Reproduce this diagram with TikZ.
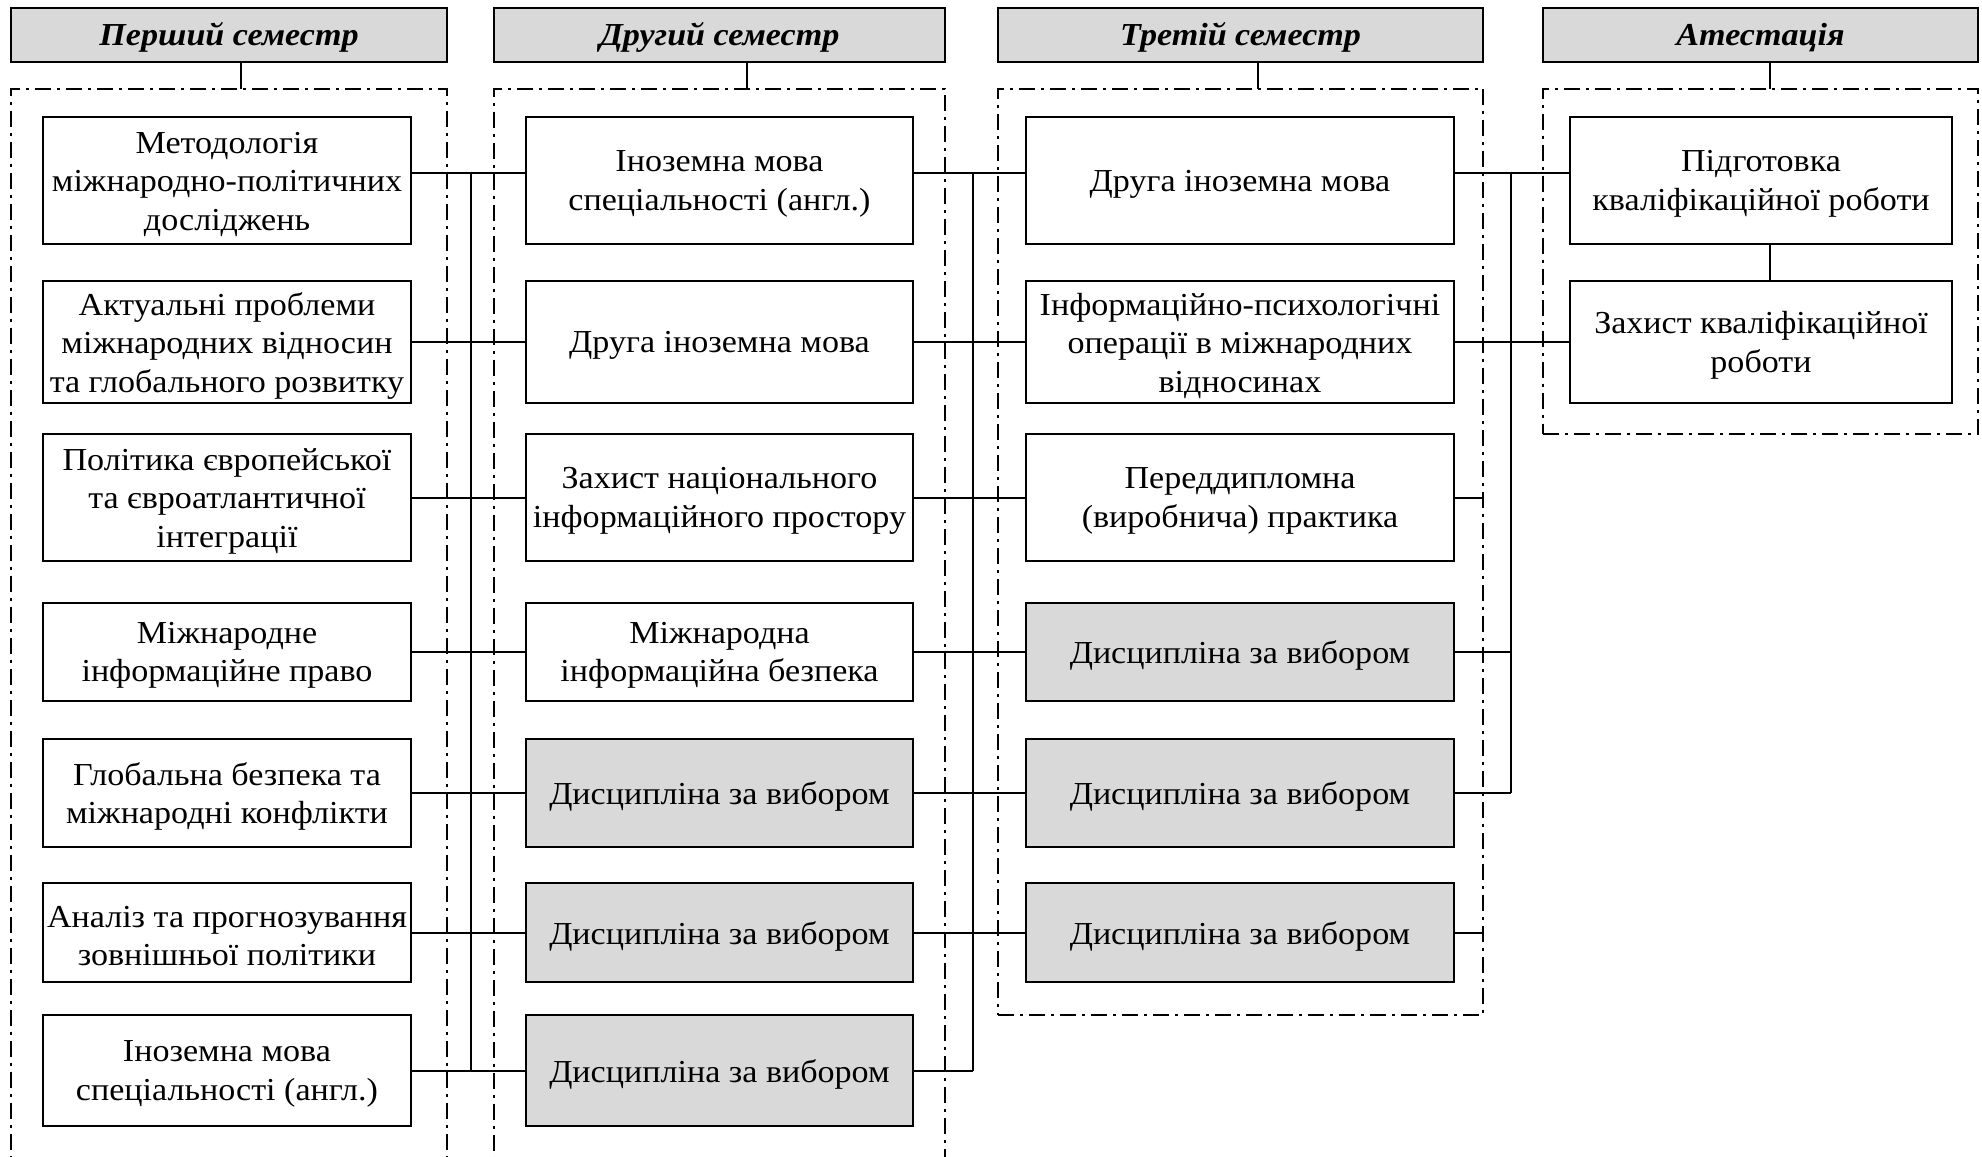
\documentclass[tikz,border=0pt]{standalone}
\usepackage{fontspec}
\setmainfont{Liberation Serif}[FakeStretch=1.065]
\definecolor{boxgray}{HTML}{D9D9D9}
\newcommand\cbox[6]{%
  \node[#2,#3,#4] (#1) at (#5) {};
  \node[txt] (#1t) at ([yshift=-3.5pt]#1.center) {#6};}
\begin{document}
\begin{tikzpicture}[x=1pt,y=-1pt,
  every node/.style={inner sep=0pt, outer sep=0pt},
  box/.style={draw, line width=2.5pt, fill=white},
  gbox/.style={box, fill=boxgray},
  txt/.style={align=center, font=\fontsize{32}{38.5}\selectfont},
  head/.style={draw, line width=2.5pt, fill=boxgray, minimum height=54},
  htxt/.style={font=\fontsize{32}{39}\selectfont\bfseries\itshape},
  frame/.style={draw, line width=2pt, dash pattern=on 16pt off 6pt on 3pt off 6pt, anchor=north west},
  link/.style={line width=2pt},
  c1/.style={minimum width=368}, c2/.style={minimum width=387},
  c3/.style={minimum width=428}, c4/.style={minimum width=382},
  r1/.style={minimum height=127}, r2/.style={minimum height=122},
  r3/.style={minimum height=127}, r4/.style={minimum height=98},
  r5/.style={minimum height=108}, r6/.style={minimum height=99},
  r7/.style={minimum height=111}]
\useasboundingbox (0,0) rectangle (1982,1157);

% headers
\node[head, minimum width=436] (h1) at (229,35) {};
\node[head, minimum width=451] (h2) at (719.5,35) {};
\node[head, minimum width=485] (h3) at (1240.5,35) {};
\node[head, minimum width=435] (h4) at (1760.5,35) {};
\node[htxt] (h1t) at ([yshift=-2.5pt]h1.center) {Перший семестр};
\node[htxt] (h2t) at ([yshift=-2.5pt]h2.center) {Другий семестр};
\node[htxt] (h3t) at ([yshift=-2.5pt]h3.center) {Третій семестр};
\node[htxt] (h4t) at ([yshift=-2.5pt]h4.center) {Атестація};

% frames
\node[frame, minimum width=436, minimum height=1090] (f1) at (11,88.5) {};
\node[frame, minimum width=451, minimum height=1090] (f2) at (494,88.5) {};
\node[frame, minimum width=485, minimum height=926.5] (f3) at (998,88.5) {};
\node[frame, minimum width=435, minimum height=345] (f4) at (1543,88.5) {};

\coordinate (t1) at (241,0);
\coordinate (t2) at (747,0);
\coordinate (t3) at (1258,0);
\coordinate (t4) at (1770,0);
\draw[link] (h1.south -| t1) -- (f1.north -| t1);
\draw[link] (h2.south -| t2) -- (f2.north -| t2);
\draw[link] (h3.south -| t3) -- (f3.north -| t3);
\draw[link] (h4.south -| t4) -- (f4.north -| t4);

% column 1
\cbox{a1}{box}{c1}{r1}{227,180.5}{Методологія\\міжнародно-політичних\\досліджень}
\cbox{a2}{box}{c1}{r2}{227,342}{Актуальні проблеми\\міжнародних відносин\\та глобального розвитку}
\cbox{a3}{box}{c1}{r3}{227,497.5}{Політика європейської\\та євроатлантичної\\інтеграції}
\cbox{a4}{box}{c1}{r4}{227,652}{Міжнародне\\інформаційне право}
\cbox{a5}{box}{c1}{r5}{227,793}{Глобальна безпека та\\міжнародні конфлікти}
\cbox{a6}{box}{c1}{r6}{227,932.5}{Аналіз та прогнозування\\зовнішньої політики}
\cbox{a7}{box}{c1}{r7}{227,1070.5}{Іноземна мова\\спеціальності (англ.)}

% column 2
\cbox{b1}{box}{c2}{r1}{719.5,180.5}{Іноземна мова\\спеціальності (англ.)}
\cbox{b2}{box}{c2}{r2}{719.5,342}{Друга іноземна мова}
\cbox{b3}{box}{c2}{r3}{719.5,497.5}{Захист національного\\інформаційного простору}
\cbox{b4}{box}{c2}{r4}{719.5,652}{Міжнародна\\інформаційна безпека}
\cbox{b5}{gbox}{c2}{r5}{719.5,793}{Дисципліна за вибором}
\cbox{b6}{gbox}{c2}{r6}{719.5,932.5}{Дисципліна за вибором}
\cbox{b7}{gbox}{c2}{r7}{719.5,1070.5}{Дисципліна за вибором}

% column 3
\cbox{d1}{box}{c3}{r1}{1240,180.5}{Друга іноземна мова}
\cbox{d2}{box}{c3}{r2}{1240,342}{Інформаційно-психологічні\\операції в міжнародних\\відносинах}
\cbox{d3}{box}{c3}{r3}{1240,497.5}{Переддипломна\\(виробнича) практика}
\cbox{d4}{gbox}{c3}{r4}{1240,652}{Дисципліна за вибором}
\cbox{d5}{gbox}{c3}{r5}{1240,793}{Дисципліна за вибором}
\cbox{d6}{gbox}{c3}{r6}{1240,932.5}{Дисципліна за вибором}

% column 4
\cbox{e1}{box}{c4}{r1}{1761,180.5}{Підготовка\\кваліфікаційної роботи}
\cbox{e2}{box}{c4}{r2}{1761,342}{Захист кваліфікаційної\\роботи}
\draw[link] (e1.south -| t4) -- (e2.north -| t4);

% buses
\coordinate (busA) at (470.7,0);
\coordinate (busB) at (973,0);
\coordinate (busC) at (1510.6,0);

% col1 -> col2
\draw[link] ([yshift=7.5pt]a1.east) -- ([yshift=7.5pt]b1.west);
\foreach \i in {2,...,7} \draw[link] (a\i.east) -- (b\i.west);
\draw[link] ([yshift=7.5pt]a1.east -| busA) -- (a7.east -| busA);

% col2 -> col3
\draw[link] ([yshift=7.5pt]b1.east) -- ([yshift=7.5pt]d1.west);
\foreach \i in {2,...,6} \draw[link] (b\i.east) -- (d\i.west);
\draw[link] (b7.east) -- (b7.east -| busB);
\draw[link] ([yshift=7.5pt]b1.east -| busB) -- (b7.east -| busB);

% col3 -> col4
\draw[link] ([yshift=7.5pt]d1.east) -- ([yshift=7.5pt]e1.west);
\draw[link] (d2.east) -- (e2.west);
\draw[link] (d4.east) -- (d4.east -| busC);
\draw[link] (d5.east) -- (d5.east -| busC);
\draw[link] ([yshift=7.5pt]d1.east -| busC) -- (d5.east -| busC);
\draw[link] (d3.east) -- (d3.east -| f3.east);
\draw[link] (d6.east) -- (d6.east -| f3.east);
\end{tikzpicture}
\end{document}
